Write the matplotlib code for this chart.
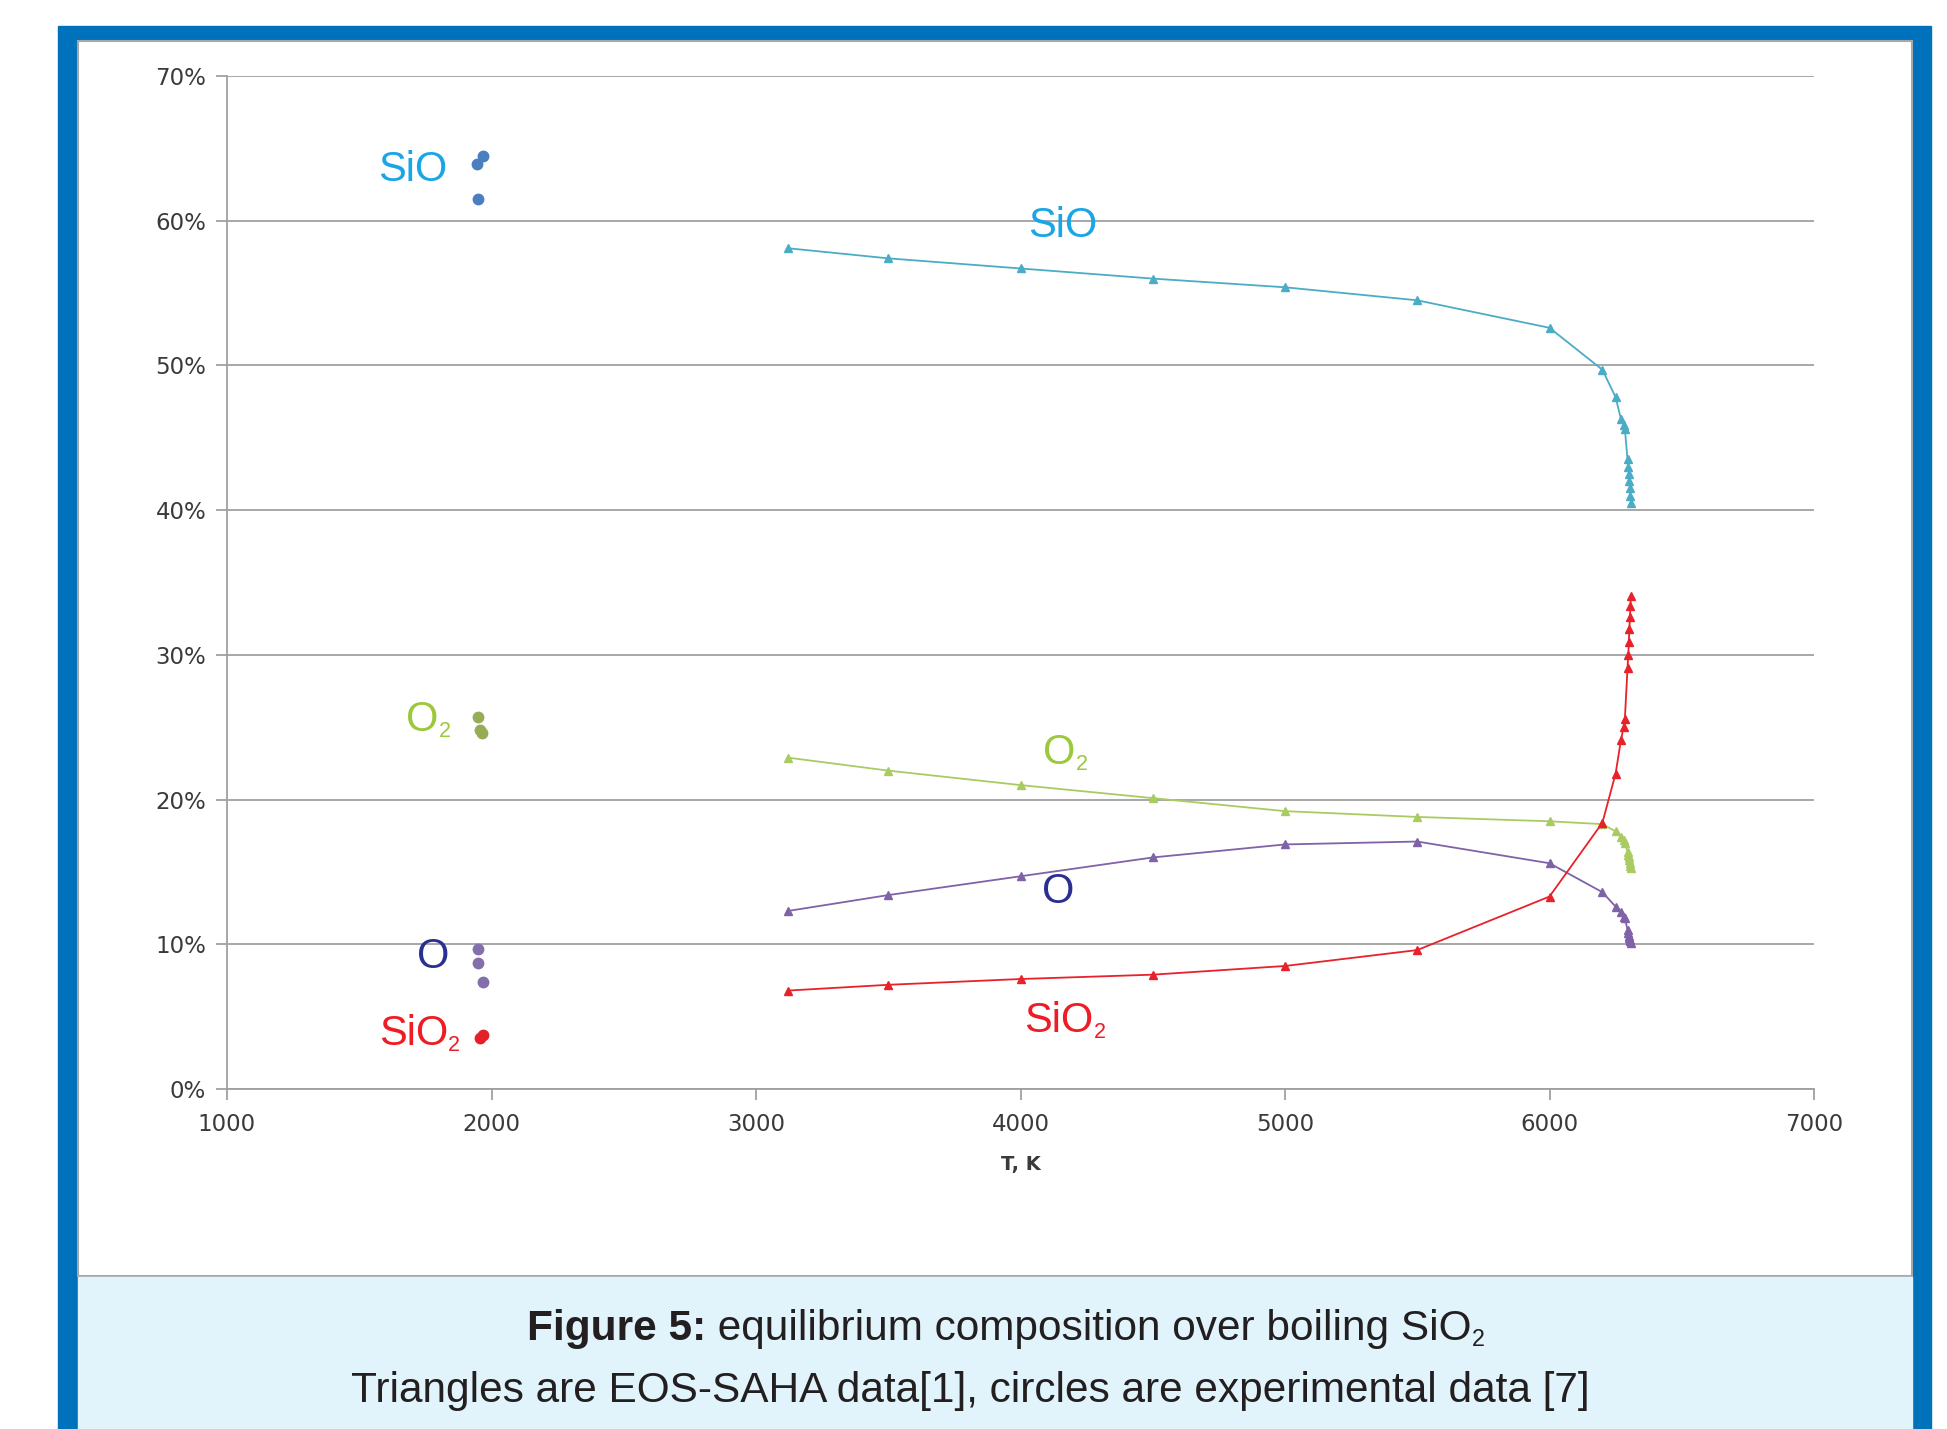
import matplotlib
matplotlib.use("Agg")
import matplotlib.pyplot as plt
from matplotlib.patches import Rectangle
from matplotlib.transforms import offset_copy

# ---- data: EOS-SAHA (triangles) ----
T_eos = [3120, 3500, 4000, 4500, 5000, 5500, 6000, 6200, 6250, 6270, 6280, 6285,
         6295, 6298, 6300, 6302, 6304, 6306, 6308]
sio_eos = [58.1, 57.4, 56.7, 56.0, 55.4, 54.5, 52.6, 49.7, 47.8, 46.3, 45.9, 45.6,
           43.5, 43.0, 42.5, 42.0, 41.5, 41.0, 40.5]
o2_eos = [22.9, 22.0, 21.0, 20.1, 19.2, 18.8, 18.5, 18.3, 17.8, 17.4, 17.2, 17.0,
          16.4, 16.2, 16.0, 15.8, 15.6, 15.4, 15.3]
o_eos = [12.3, 13.4, 14.7, 16.0, 16.9, 17.1, 15.6, 13.6, 12.6, 12.2, 11.9, 11.8,
         11.0, 10.8, 10.6, 10.4, 10.3, 10.2, 10.1]
sio2_eos = [6.8, 7.2, 7.6, 7.9, 8.5, 9.6, 13.3, 18.4, 21.8, 24.1, 25.0, 25.6,
            29.1, 30.0, 30.9, 31.8, 32.6, 33.4, 34.1]

# ---- data: experiment (circles) ----
T_sio_exp = [1967, 1944, 1948]
sio_exp = [64.5, 63.9, 61.5]
T_o2_exp = [1948, 1957, 1963]
o2_exp = [25.7, 24.8, 24.6]
T_o_exp = [1948, 1948, 1967]
o_exp = [9.65, 8.7, 7.4]
T_sio2_exp = [1957, 1967]
sio2_exp = [3.5, 3.7]

x_ticks = [1000, 2000, 3000, 4000, 5000, 6000, 7000]
y_ticks = [0, 10, 20, 30, 40, 50, 60, 70]

W, H = 1947, 1429
fig = plt.figure(figsize=(W / 100, H / 100), dpi=100)
renderer = fig.canvas.get_renderer()
FONT = "Liberation Sans"


def fr(x0, y0, x1, y1):
    # pixel box (top-left origin) -> figure fraction rect args
    return (x0 / W, 1 - y1 / H), (x1 - x0) / W, (y1 - y0) / H


def text_width(s, size, weight):
    t = fig.text(0, 0, s, fontsize=size, family=FONT, fontweight=weight)
    w = t.get_window_extent(renderer).width
    t.remove()
    return w


def draw_parts(x, y, trans, parts, color):
    # parts: (text, size, weight, dy in px); centred on x, baseline at y
    widths = [text_width(p[0], p[1], p[2]) for p in parts]
    left = -sum(widths) / 2
    for (s, size, weight, dy), w in zip(parts, widths):
        tr = offset_copy(trans, fig=fig, x=left, y=dy, units="dots")
        fig.text(x, y, s, transform=tr, fontsize=size, family=FONT, fontweight=weight,
                 color=color, ha="left", va="baseline")
        left += w


# frame: blue border, white chart panel, light blue caption panel
xy, w, h = fr(58, 26, 1931, 1440)
fig.add_artist(Rectangle(xy, w, h, transform=fig.transFigure, color="#0072bb", zorder=0))
xy, w, h = fr(78, 41, 1912, 1276)
fig.add_artist(Rectangle(xy, w, h, transform=fig.transFigure, facecolor="white",
                         edgecolor="#a8a8a8", lw=1.5, zorder=0))
xy, w, h = fr(78, 1277, 1912, 1440)
fig.add_artist(Rectangle(xy, w, h, transform=fig.transFigure, color="#e1f3fb", zorder=0))

ax = fig.add_axes([227 / W, 1 - 1089 / H, (1814 - 227) / W, (1089 - 76) / H])
ax.set_facecolor("none")

sio_line = "#4bacc6"
o2_line = "#a9cc62"
o_line = "#7f62a8"
sio2_line = "#e8222a"

ms = 5.5
ax.plot(T_eos, sio_eos, "-^", color=sio_line, lw=1.3, ms=ms, zorder=3)
ax.plot(T_eos, o2_eos, "-^", color=o2_line, lw=1.3, ms=ms, zorder=3)
ax.plot(T_eos, o_eos, "-^", color=o_line, lw=1.3, ms=ms, zorder=3)
ax.plot(T_eos, sio2_eos, "-^", color=sio2_line, lw=1.3, ms=ms, zorder=4)

ax.plot(T_sio_exp, sio_exp, "o", color="#4a7fbf", ms=7.5, zorder=3)
ax.plot(T_o2_exp, o2_exp, "o", color="#96ad55", ms=7.5, zorder=3)
ax.plot(T_o_exp, o_exp, "o", color="#8370ab", ms=7.5, zorder=3)
ax.plot(T_sio2_exp, sio2_exp, "o", color="#e32027", ms=7.5, zorder=3)

ax.set_xlim(1000, 7000)
ax.set_ylim(0, 70)
ax.set_xticks(x_ticks)
ax.set_yticks(y_ticks)
ax.set_yticklabels([f"{v}%" for v in y_ticks])
ax.yaxis.grid(True, color="#a0a0a0", lw=1.3)
ax.set_axisbelow(True)
for s in ["top", "right"]:
    ax.spines[s].set_visible(False)
for s in ["left", "bottom"]:
    ax.spines[s].set_color("#a0a0a0")
    ax.spines[s].set_linewidth(1.3)
ax.tick_params(axis="both", colors="#a0a0a0", labelcolor="#3a3a3a", labelsize=16.5,
               length=8, width=1.3)
ax.tick_params(axis="y", pad=7)
ax.tick_params(axis="x", pad=9)
ax.set_xlabel("T, K", fontsize=14, fontweight="bold", color="#3a3a3a", labelpad=14)

# species labels (x, y = centre of the label in data units)
big, small = 30, 15.5
cap_drop = -0.36 * big * 100 / 72 + 3
sub_drop = cap_drop - 6
labels = [
    (1704, 63.6, "SiO", "", "#1aa6e6"),
    (4160, 59.7, "SiO", "", "#1aa6e6"),
    (1761, 25.6, "O", "2", "#9cc83c"),
    (4169, 23.3, "O", "2", "#9cc83c"),
    (4141, 13.7, "O", "", "#2b2f8f"),
    (1779, 9.2, "O", "", "#2b2f8f"),
    (1728, 3.9, "SiO", "2", "#ee1c25"),
    (4169, 4.8, "SiO", "2", "#ee1c25"),
]
for lx, ly, main, sub, col in labels:
    parts = [(main, big, "normal", cap_drop)]
    if sub:
        parts.append((sub, small, "normal", sub_drop))
    draw_parts(lx, ly, ax.transData, parts, col)

# caption
cap = 30.5
draw_parts(1006 / W, 1 - 1340 / H, fig.transFigure,
           [("Figure 5:", cap, "bold", 0),
            (" equilibrium composition over boiling SiO", cap, "normal", 0),
            ("2", cap * 0.55, "normal", -6)], "#231f20")
draw_parts(970 / W, 1 - 1402 / H, fig.transFigure,
           [("Triangles are EOS-SAHA data[1], circles are experimental data [7]", cap, "normal", 0)],
           "#231f20")

fig.savefig("out.png", dpi=100)
